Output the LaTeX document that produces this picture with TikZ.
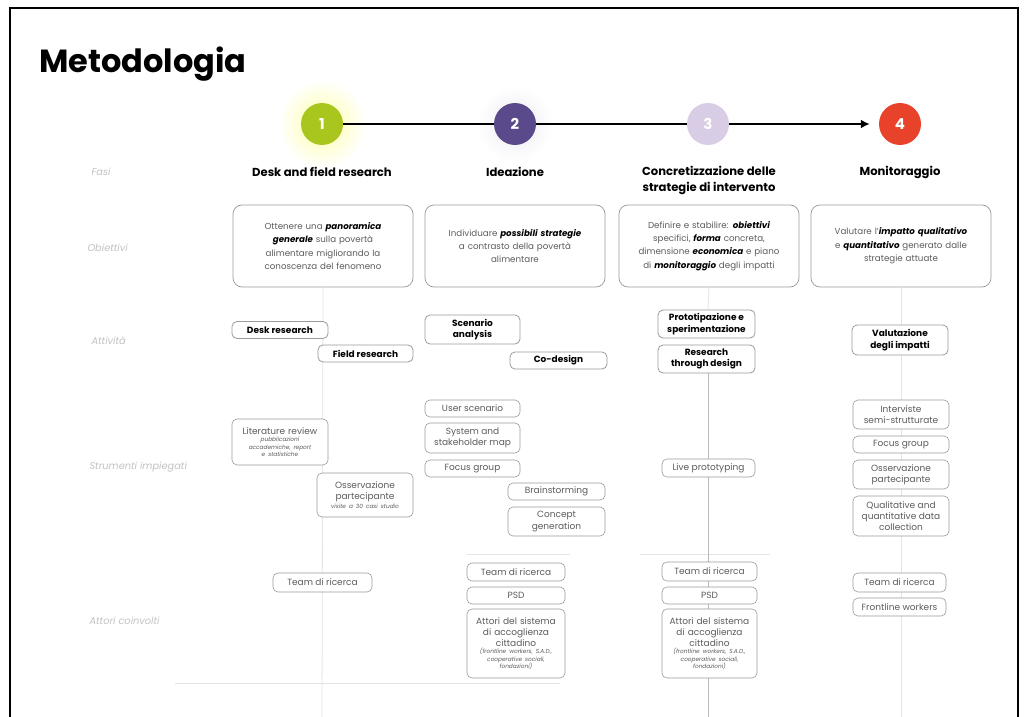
\documentclass[tikz,border=0pt]{standalone}
\usepackage{fontspec}
\setmainfont{Poppins}
\usetikzlibrary{arrows.meta}
\definecolor{cgreen}{HTML}{A9C61F}
\definecolor{cpurple}{HTML}{5B4A8B}
\definecolor{clav}{HTML}{D9CDE5}
\definecolor{cred}{HTML}{E8432A}
\definecolor{txt}{HTML}{5C5C5C}
\definecolor{lbl}{HTML}{C2C2C2}
\definecolor{bord}{HTML}{9A9A9A}
\definecolor{ghost}{HTML}{E4E4E4}
\newcommand{\bi}[1]{{\color{black}\bfseries\itshape #1}}
\newcommand{\smallit}[1]{{\fontsize{5.8}{7.2}\selectfont\itshape #1\par}}
\begin{document}
\begin{tikzpicture}[x=1pt,y=-1pt,
  objbox/.style={draw=bord, line width=0.7pt, rounded corners=9pt, minimum width=180pt, minimum height=82pt, text width=166pt, align=center, font=\fontsize{8.7}{13.4}\selectfont, text=txt, inner sep=0pt},
  actbox/.style={draw=bord, line width=0.8pt, rounded corners=5pt, align=center, font=\bfseries\fontsize{9}{11.8}\selectfont, text=black, inner sep=0pt},
  toolbox/.style={draw=bord, line width=0.6pt, rounded corners=5pt, align=center, font=\fontsize{9}{11.2}\selectfont, text=txt, inner sep=0pt},
  phase/.style={circle, minimum size=42pt, inner sep=0pt, font=\bfseries\fontsize{15}{15}\selectfont, text=white},
  ptitle/.style={font=\bfseries\fontsize{11.6}{16}\selectfont, align=center},
  rowlbl/.style={anchor=west, font=\itshape\fontsize{9.8}{11}\selectfont, text=lbl},
  ghostline/.style={draw=ghost, line width=0.8pt},
  ghostline2/.style={draw=gray!55, line width=0.7pt}
]
\useasboundingbox (0,0) rectangle (1029,717);
\fill[white] (0,0) rectangle (1029,717);
% frame
\draw[line width=1.2pt] (10,717) -- (10,8) -- (1018,8) -- (1018,717);

% title
\node[anchor=base west, inner sep=0pt, font=\bfseries\fontsize{32}{33}\selectfont] (title) at (39,73) {Metodologia};

% glow
\shade[inner color=yellow!35, outer color=white] (322,124) circle (44);
\shade[inner color=cpurple!12, outer color=white] (515,124) circle (38);

% phases
\node[phase, fill=cgreen] (c1) at (322,124) {1};
\node[phase, fill=cpurple] (c2) at (515,124) {2};
\node[phase, fill=clav] (c3) at (708,124) {3};
\node[phase, fill=cred] (c4) at (900,124) {4};
\draw[line width=2.2pt] (c1) -- (c2);
\draw[line width=2.2pt] (c2) -- (c3);
\draw[line width=2.2pt, -{Latex[length=9pt,width=9pt]}, shorten >=9pt] (c3) -- (c4);

% row labels
\node[rowlbl] (lfasi) at (88,172) {Fasi};
\node[rowlbl] (lobi) at (84,248) {Obiettivi};
\node[rowlbl] (latt) at (88,341) {Attività};
\node[rowlbl] (lstr) at (86,467) {Strumenti impiegati};
\node[rowlbl] (lact) at (86,621) {Attori coinvolti};

% phase titles
\node[ptitle] (t1) at (322,172) {Desk and field research};
\node[ptitle] (t2) at (515,172) {Ideazione};
\node[ptitle] (t3) at (709,180) {Concretizzazione delle\\strategie di intervento};
\node[ptitle] (t4) at (900,172) {Monitoraggio};

% objectives
\node[objbox] (o1) at (323,246) {Ottenere una \bi{panoramica}\\\bi{generale} sulla povertà\\alimentare migliorando la\\conoscenza del fenomeno};
\node[objbox] (o2) at (515,246) {Individuare \bi{possibili strategie}\\a contrasto della povertà\\alimentare};
\node[objbox] (o3) at (709,246) {Definire e stabilire: \bi{obiettivi}\\specifici, \bi{forma} concreta,\\dimensione \bi{economica} e piano\\di \bi{monitoraggio} degli impatti};
\node[objbox] (o4) at (901,246) {Valutare l'\bi{impatto qualitativo}\\e \bi{quantitativo} generato dalle\\strategie attuate};

% ghost lines (behind small boxes)
\coordinate (g1b) at (322,717);
\coordinate (g3b) at (708,717);
\coordinate (g4b) at (901,717);
\coordinate (h1a) at (175,683);
\coordinate (h1b) at (560,683);
\coordinate (h2a) at (467,554);
\coordinate (h2b) at (570,554);
\coordinate (h3a) at (640,554);
\coordinate (h3b) at (770,554);
\draw[ghostline] (h1a) -- (h1b);
\draw[ghostline] (h2a) -- (h2b);
\draw[ghostline] (h3a) -- (h3b);
\draw[ghostline] (o1.south) -- (g1b);
\draw[ghostline] (o4.south) -- (g4b);
\draw[ghostline2] (708,373) -- (g3b);
\draw[ghostline] (o3.south) -- (708,310);

% activities
\node[actbox, fill=white, minimum width=96pt, minimum height=17pt] (a1) at (280,330) {Desk research};
\node[actbox, fill=white, minimum width=95pt, minimum height=17pt] (a2) at (365.5,353.5) {Field research};
\node[actbox, fill=white, minimum width=95pt, minimum height=29pt] (a3) at (472.5,329.5) {Scenario\\analysis};
\node[actbox, fill=white, minimum width=97pt, minimum height=17pt] (a4) at (558.5,360.5) {Co-design};
\node[actbox, fill=white, minimum width=97pt, minimum height=28pt] (a5) at (706.5,324) {Prototipazione e\\sperimentazione};
\node[actbox, fill=white, minimum width=97pt, minimum height=28pt] (a6) at (706.5,359) {Research\\through design};
\node[actbox, fill=white, minimum width=96pt, minimum height=30pt] (a7) at (900,340) {Valutazione\\degli impatti};

% tools
\node[toolbox, fill=white, minimum width=96pt, minimum height=46pt, text width=92pt] (s1) at (280,442) {Literature review\par\smallit{pubblicazioni\\accademiche, report\\e statistiche}};
\node[toolbox, fill=white, minimum width=96pt, minimum height=44pt, text width=92pt] (s2) at (365,495) {Osservazione\\partecipante\par\vspace{2pt}\smallit{visite a 30 casi studio}};
\node[toolbox, fill=white, minimum width=95pt, minimum height=17pt] (s3) at (472.5,408.5) {User scenario};
\node[toolbox, fill=white, minimum width=95pt, minimum height=30pt] (s4) at (472.5,438) {System and\\stakeholder map};
\node[toolbox, fill=white, minimum width=95pt, minimum height=17pt] (s5) at (472.5,468.5) {Focus group};
\node[toolbox, fill=white, minimum width=97pt, minimum height=17pt] (s6) at (556.5,491.5) {Brainstorming};
\node[toolbox, fill=white, minimum width=97pt, minimum height=29pt] (s7) at (556.5,521.5) {Concept\\generation};
\node[toolbox, fill=white, minimum width=93pt, minimum height=18pt] (s8) at (708.5,468) {Live prototyping};
\node[toolbox, fill=white, minimum width=96pt, minimum height=29pt] (s9) at (901,414.5) {Interviste\\semi-strutturate};
\node[toolbox, fill=white, minimum width=96pt, minimum height=17pt] (s10) at (901,444.5) {Focus group};
\node[toolbox, fill=white, minimum width=96pt, minimum height=29pt] (s11) at (901,474.5) {Osservazione\\partecipante};
\node[toolbox, fill=white, minimum width=96pt, minimum height=40pt] (s12) at (901,516) {Qualitative and\\quantitative data\\collection};

% actors
\node[toolbox, fill=white, minimum width=99pt, minimum height=19pt] (r1) at (322.5,582.5) {Team di ricerca};
\node[toolbox, fill=white, minimum width=98pt, minimum height=18pt] (r2) at (516,572) {Team di ricerca};
\node[toolbox, fill=white, minimum width=98pt, minimum height=17pt] (r3) at (516,595.5) {PSD};
\node[toolbox, fill=white, minimum width=98pt, minimum height=69pt, text width=94pt] (r4) at (516,643.5) {Attori del sistema\\di accoglienza\\cittadino\par\smallit{(frontline workers, S.A.D.,\\cooperative sociali,\\fondazioni)}};
\node[toolbox, fill=white, minimum width=95pt, minimum height=19pt] (r5) at (709.5,571.5) {Team di ricerca};
\node[toolbox, fill=white, minimum width=95pt, minimum height=17pt] (r6) at (709.5,595.5) {PSD};
\node[toolbox, fill=white, minimum width=95pt, minimum height=69pt, text width=91pt] (r7) at (709.5,643.5) {Attori del sistema\\di accoglienza\\cittadino\par\smallit{(frontline workers, S.A.D.,\\cooperative sociali,\\fondazioni)}};
\node[toolbox, fill=white, minimum width=93pt, minimum height=19pt] (r8) at (899.5,582.5) {Team di ricerca};
\node[toolbox, fill=white, minimum width=93pt, minimum height=18pt] (r9) at (899.5,607) {Frontline workers};
\end{tikzpicture}
\end{document}
